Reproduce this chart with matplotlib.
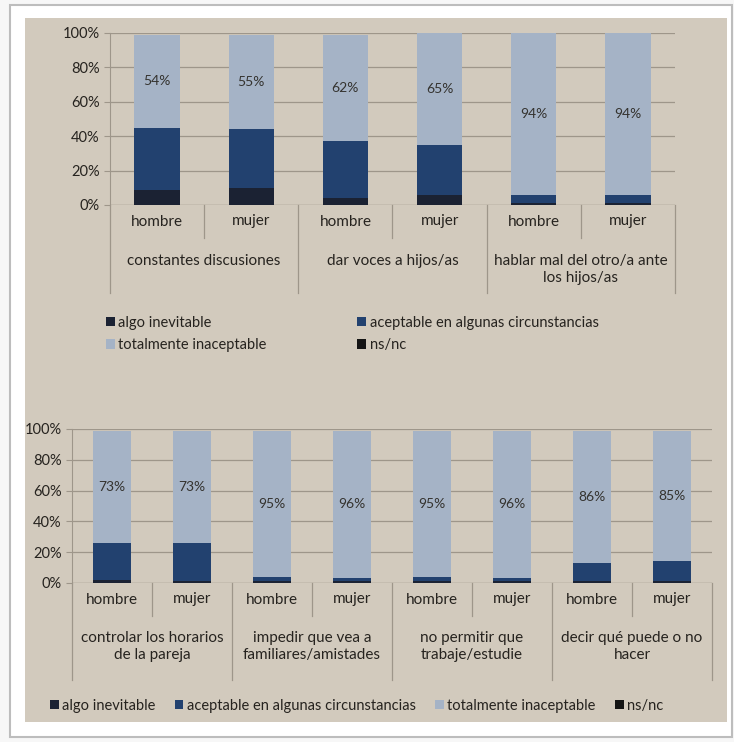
import matplotlib.pyplot as plt
from matplotlib.patches import Rectangle
from matplotlib.ticker import PercentFormatter
from matplotlib.transforms import blended_transform_factory
import numpy as np

plt.rcParams['font.family'] = ['Lato', 'DejaVu Sans']

W, H = 734, 742

SEXES = ["hombre", "mujer"]
SERIES = ["algo inevitable", "aceptable en algunas circunstancias",
          "totalmente inaceptable", "ns/nc"]
COLORS = ["#1b2233", "#22416f", "#a5b3c6", "#141414"]

# top chart
top_groups = ["constantes discusiones", "dar voces a hijos/as",
              "hablar mal del otro/a ante\nlos hijos/as"]
top_algo = [9, 10, 4, 6, 1, 1]
top_acept = [36, 34, 33, 29, 5, 5]
top_total = [54, 55, 62, 65, 94, 94]
top_nsnc = [0, 0, 0, 0, 0, 0]

# bottom chart
bot_groups = ["controlar los horarios\nde la pareja", "impedir que vea a\nfamiliares/amistades",
              "no permitir que\ntrabaje/estudie", "decir qué puede o no\nhacer"]
bot_algo = [2, 1, 1, 1, 1, 1, 1, 1]
bot_acept = [24, 25, 3, 2, 3, 2, 12, 13]
bot_total = [73, 73, 95, 96, 95, 96, 86, 85]
bot_nsnc = [0, 0, 0, 0, 0, 0, 0, 0]

PAPER = "#d2cabd"
GRID = "#9e968a"
TEXT = "#26231f"


def px_box(left, top, right, bottom):
    return [left / W, 1 - bottom / H, (right - left) / W, (bottom - top) / H]


def draw_panel(ax, groups, series, y0_px, y1_px, row_px, long_px, grp_px):
    n = len(series[0])
    x = np.arange(n)
    bottom = np.zeros(n)
    for vals, color, name in zip(series, COLORS, SERIES):
        vals = np.array(vals, dtype=float)
        bars = ax.bar(x, vals, 0.48, bottom=bottom, color=color, label=name, zorder=3)
        if name == "totalmente inaceptable":
            for b, v, btm in zip(bars, vals, bottom):
                ax.text(b.get_x() + b.get_width() / 2, btm + v / 2, f"{v:.0f}%",
                        ha="center", va="center", fontsize=10, color="#34332f", zorder=4)
        bottom += vals

    ax.set_xlim(-0.5, n - 0.5)
    ax.set_ylim(0, 100)
    ax.set_yticks(range(0, 101, 20))
    ax.yaxis.set_major_formatter(PercentFormatter(decimals=0))
    ax.set_xticks([])
    ax.set_facecolor("none")
    ax.grid(axis="y", color=GRID, lw=0.9, zorder=0)
    for s in ["top", "right", "bottom"]:
        ax.spines[s].set_visible(False)
    ax.spines["left"].set_color(GRID)
    ax.tick_params(axis="y", colors=GRID, labelcolor=TEXT, labelsize=10.5, length=4)
    ax.axhline(0, color=GRID, lw=0.9, zorder=2)

    # two-level category axis
    h_px = y1_px - y0_px

    def ay(py):
        return (y1_px - py) / h_px

    tr = blended_transform_factory(ax.transData, ax.transAxes)
    for i in range(n):
        ax.text(i, ay(y1_px + row_px * 0.5), SEXES[i % 2], transform=tr,
                ha="center", va="center", fontsize=11, color=TEXT)
    for k in range(n + 1):
        xe = k - 0.5
        end = long_px if k % 2 == 0 else row_px
        ax.plot([xe, xe], [0, ay(y1_px + end)], transform=tr, color=GRID,
                lw=0.9, clip_on=False)
    for g, label in enumerate(groups):
        ax.text(2 * g + 0.5, ay(y1_px + grp_px), label, transform=tr,
                ha="center", va="top", fontsize=11, color=TEXT, linespacing=1.3)


fig = plt.figure(figsize=(W / 100, H / 100), dpi=100, facecolor="#f7f7f7")

# photo frame and paper
fig.patches.append(Rectangle((10 / W, 1 - 737 / H), 722 / W, 732 / H, transform=fig.transFigure,
                             facecolor="white", edgecolor="#bdbdbd", lw=1.5, zorder=-3))
fig.patches.append(Rectangle((25 / W, 1 - 722 / H), 702 / W, 704 / H, transform=fig.transFigure,
                             facecolor=PAPER, edgecolor="none", zorder=-2))

ax1 = fig.add_axes(px_box(110, 33, 675, 205))
draw_panel(ax1, top_groups, [top_algo, top_acept, top_total, top_nsnc],
           33, 205, 33, 88, 49)

ax2 = fig.add_axes(px_box(72, 429, 712, 583))
draw_panel(ax2, bot_groups, [bot_algo, bot_acept, bot_total, bot_nsnc],
           429, 583, 33, 97, 48)

handles, labels = ax1.get_legend_handles_labels()
order = [0, 2, 1, 3]
leg_kw = dict(frameon=False, handlelength=0.6, handleheight=0.6, handletextpad=0.25,
              fontsize=10.5, labelcolor=TEXT, borderaxespad=0, borderpad=0)
fig.legend([handles[i] for i in order], [labels[i] for i in order], ncol=2,
           loc="upper left", bbox_to_anchor=(106 / W, 1 - 316 / H),
           columnspacing=6.2, labelspacing=0.55, **leg_kw)

fig.legend(handles, labels, ncol=4, loc="upper left",
           bbox_to_anchor=(50 / W, 1 - 699 / H), columnspacing=1.3, **leg_kw)

fig.savefig("out.png", dpi=100, facecolor=fig.get_facecolor())
